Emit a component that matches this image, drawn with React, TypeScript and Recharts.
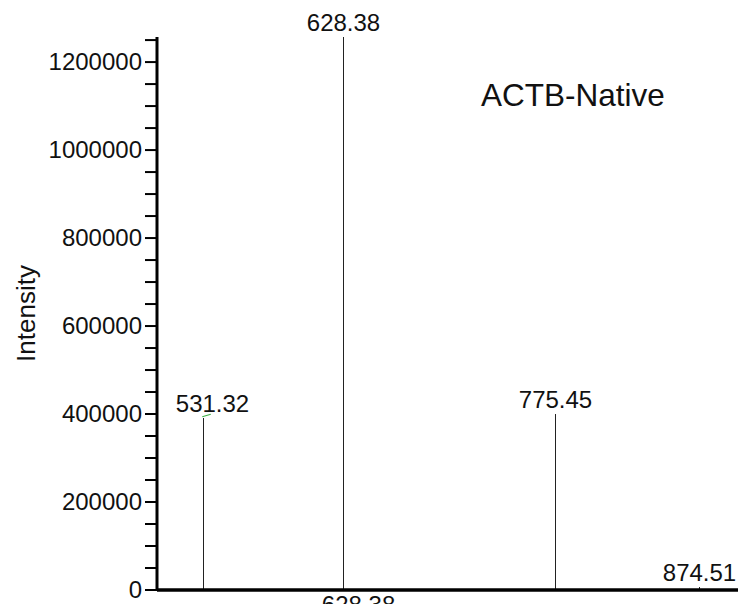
import React from "react";
import {
  ComposedChart,
  Bar,
  XAxis,
  YAxis,
  ReferenceLine,
  Customized,
} from "recharts";

// Peak list: m/z and intensity
const mzValues = [531.32, 628.38, 775.45, 874.51];
const intensities = [391000, 1257000, 400000, 6800];
const peakLabels = ["531.32", "628.38", "775.45", "874.51"];

// Y axis: tick every 50000, labelled every 200000
const yTicks = [
  0, 50000, 100000, 150000, 200000, 250000, 300000, 350000, 400000, 450000,
  500000, 550000, 600000, 650000, 700000, 750000, 800000, 850000, 900000,
  950000, 1000000, 1050000, 1100000, 1150000, 1200000, 1250000,
];
const yLabelled = [0, 200000, 400000, 600000, 800000, 1000000, 1200000];

const xDomain = [500, 902];
const yDomain = [0, 1257000];

const chartTitle = "ACTB-Native";
const yTitle = "Intensity";
const cursorMz = 628.38;
const cursorLabel = "628.38";

// Short pointer from the 531.32 label to its peak
const pointerSegment = [
  { x: 531.32, y: 393900 },
  { x: 537.2, y: 399400 },
];

const data = mzValues.map((mz, i) => ({
  mz,
  intensity: intensities[i],
  label: peakLabels[i],
}));

const FONT = "'Liberation Sans', Arial, Helvetica, sans-serif";
const labelShift: Record<string, number> = { "531.32": 9 };

const StickShape = (props: any) => {
  const { x, y, width, height, payload } = props;
  const cx = Math.round(x + width / 2) + 0.5;
  const shift = labelShift[payload.label] ?? 0;
  return (
    <g>
      <line x1={cx} x2={cx} y1={y} y2={y + height} stroke="#222" strokeWidth={1} />
      <text
        x={cx + shift}
        y={y - 6}
        textAnchor="middle"
        fontSize={24}
        fontFamily={FONT}
        fill="#111"
      >
        {payload.label}
      </text>
    </g>
  );
};

const YTick = (props: any) => {
  const { x, y, payload } = props;
  if (!yLabelled.includes(payload.value)) return null;
  return (
    <text
      x={x}
      y={y}
      dy={8}
      textAnchor="end"
      fontSize={24}
      fontFamily={FONT}
      fill="#111"
    >
      {payload.value}
    </text>
  );
};

const XTick = (props: any) => {
  const { x, y } = props;
  return (
    <text
      x={x + 16}
      y={y + 15}
      textAnchor="middle"
      fontSize={24}
      fontFamily={FONT}
      fill="#111"
    >
      {cursorLabel}
    </text>
  );
};

const Title = () => (
  <text x={481} y={106} fontSize={31.5} fontFamily={FONT} fill="#111">
    {chartTitle}
  </text>
);

export default function App() {
  return (
    <div style={{ position: "absolute", left: 0, top: 0, background: "#fff" }}>
      <ComposedChart
        width={755}
        height={604}
        data={data}
        margin={{ top: 37, right: 17, bottom: 0, left: 0 }}
      >
        <XAxis
          dataKey="mz"
          type="number"
          domain={xDomain}
          ticks={[cursorMz]}
          height={14}
          axisLine={{ stroke: "#000", strokeWidth: 3.5 }}
          tickLine={false}
          tick={<XTick />}
          interval={0}
        />
        <YAxis
          type="number"
          domain={yDomain}
          ticks={yTicks}
          interval={0}
          width={157}
          axisLine={{ stroke: "#000", strokeWidth: 3 }}
          tickLine={{ stroke: "#000", strokeWidth: 2 }}
          tickSize={12}
          tickMargin={3}
          tick={<YTick />}
          label={{
            value: yTitle,
            angle: -90,
            position: "insideLeft",
            offset: 0,
            dx: 26,
            style: { fontSize: 26, fontFamily: FONT, fill: "#111", textAnchor: "middle" },
          }}
        />
        <Bar
          dataKey="intensity"
          barSize={1}
          shape={<StickShape />}
          isAnimationActive={false}
        />
        <ReferenceLine
          segment={pointerSegment}
          stroke="#3cb043"
          strokeWidth={1.2}
          ifOverflow="visible"
        />
        <Customized component={Title} />
      </ComposedChart>
    </div>
  );
}
